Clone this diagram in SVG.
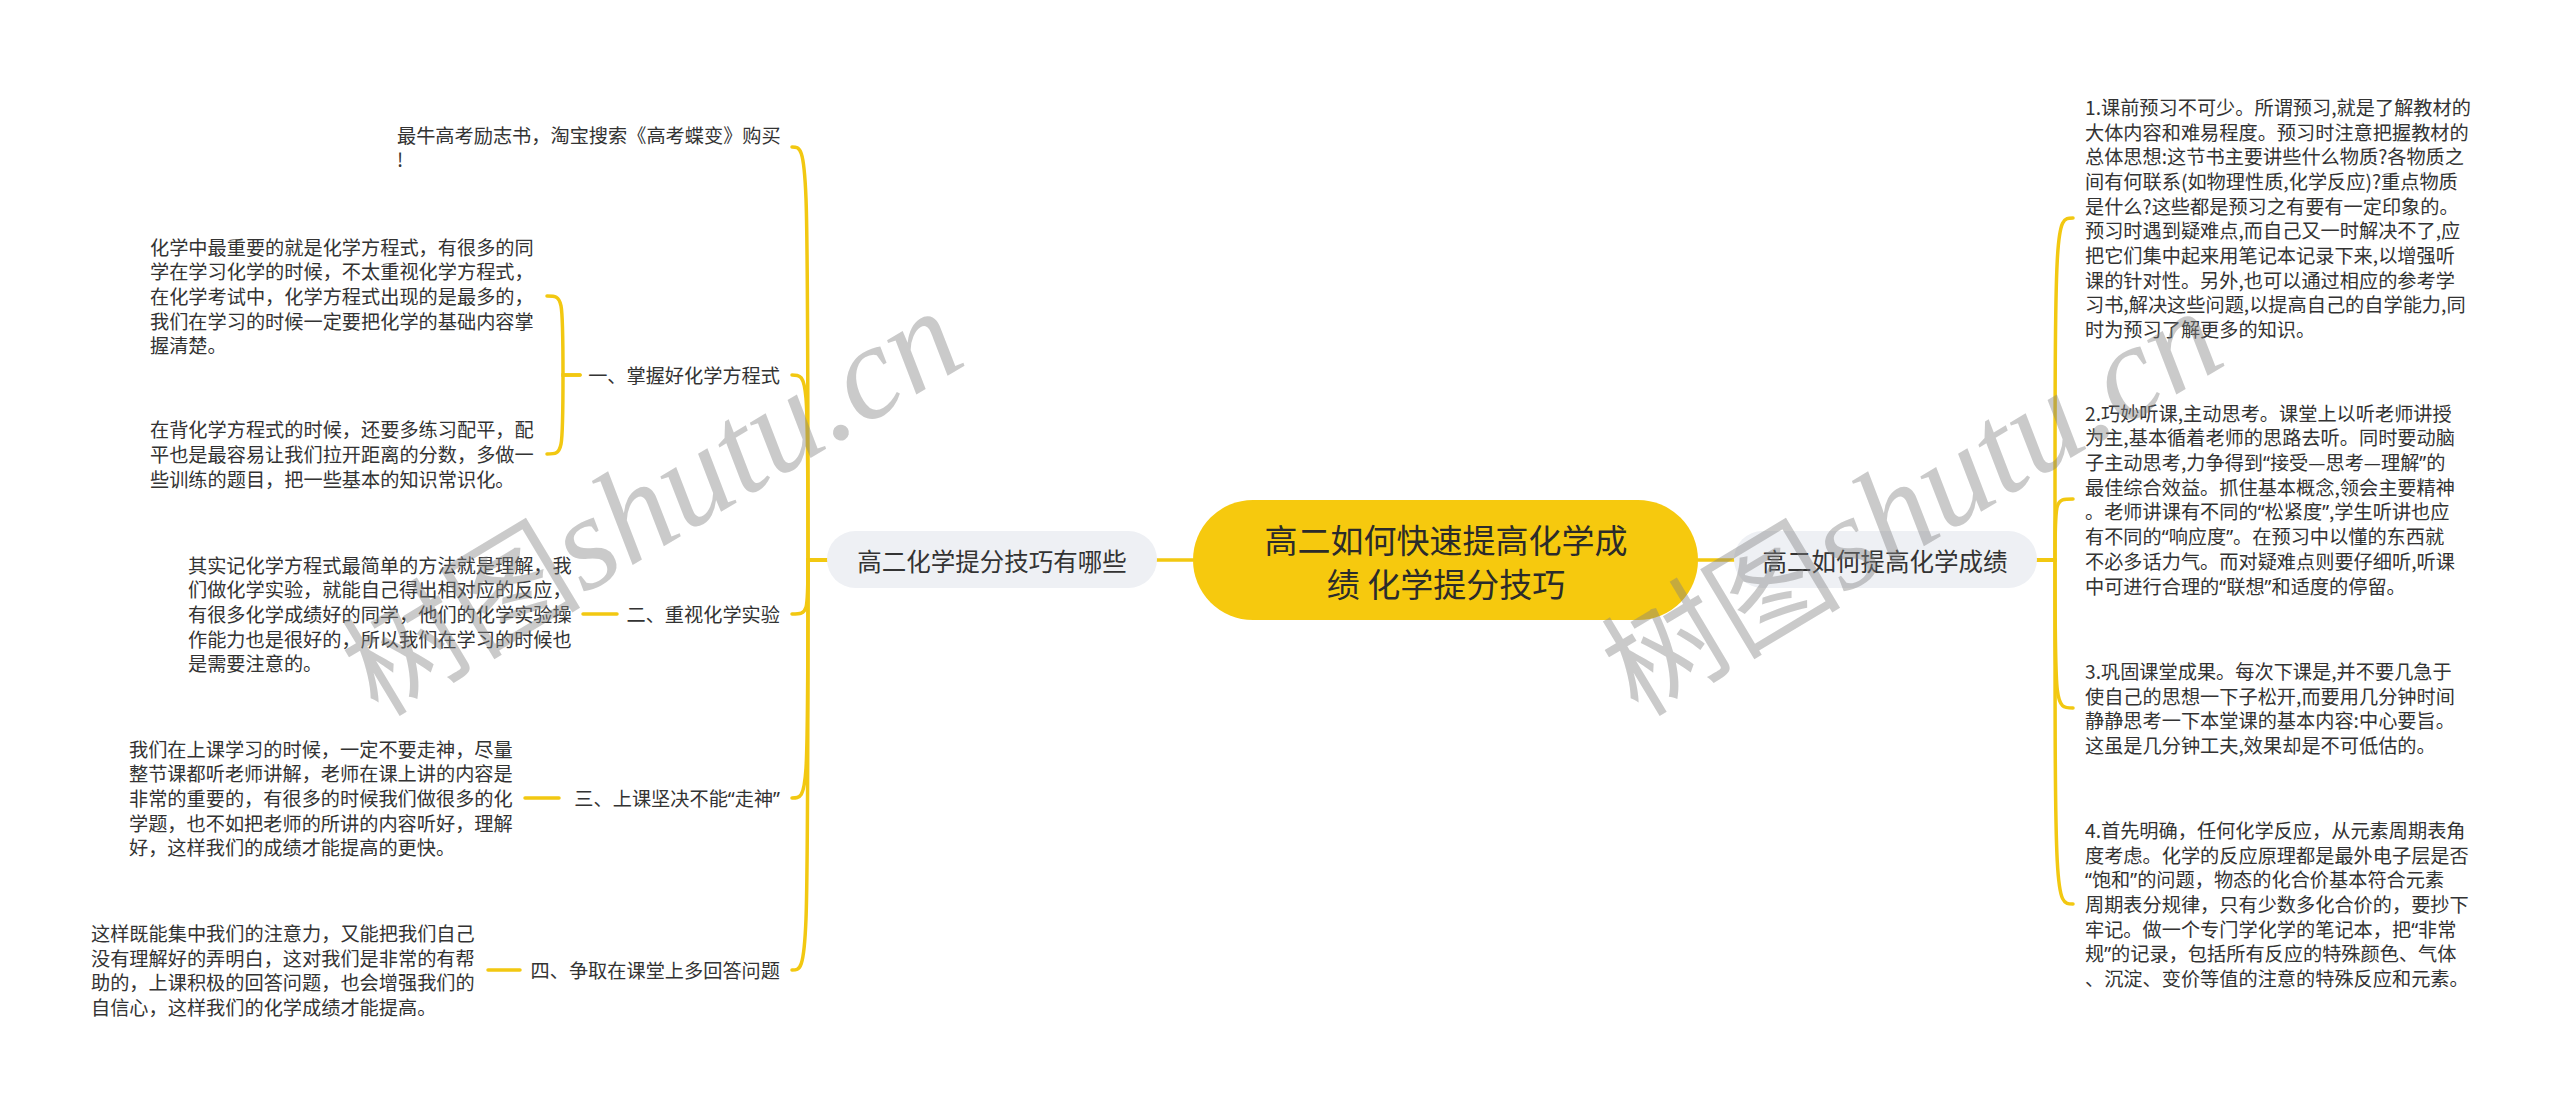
<svg xmlns="http://www.w3.org/2000/svg" width="2560" height="1112" viewBox="0 0 2560 1112">
<defs>
<style>
.t{font-family:"Noto Sans CJK SC","Noto Sans",sans-serif;fill:#333;dominant-baseline:central}
.q{font-family:"Noto Sans","Liberation Sans",sans-serif}
.s{font-size:19.2px}
.m{font-size:24.5px;text-anchor:middle}
.c{font-size:33px;text-anchor:middle;fill:#2b2b2b}
.e{text-anchor:end}
.ln{fill:none;stroke:#f2c811;stroke-width:3.5;stroke-linecap:round}
.wm{fill:#808080;fill-opacity:0.42}
</style>
</defs>
<rect width="2560" height="1112" fill="#ffffff"/>
<g id="connectors">
<path class="ln" d="M1193,560 L1157,560"/>
<path class="ln" d="M1698,560 L1734,560"/>
<path class="ln" d="M827,560 L808,560 C808,147 808,147 792,147"/>
<path class="ln" d="M827,560 L808,560 C808,375 808,375 792,375"/>
<path class="ln" d="M827,560 L808,560 C808,614 808,614 792,614"/>
<path class="ln" d="M827,560 L808,560 C808,798 808,798 792,798"/>
<path class="ln" d="M827,560 L808,560 C808,970 808,970 792,970"/>
<path class="ln" d="M580,375 L563,375 C563,296 563,296 547,296"/>
<path class="ln" d="M580,375 L563,375 C563,454 563,454 547,454"/>
<path class="ln" d="M617,614 L583,614"/>
<path class="ln" d="M559,798 L525,798"/>
<path class="ln" d="M520,970 L488,970"/>
<path class="ln" d="M2037,560 L2055,560 C2055,218 2055,218 2073,218"/>
<path class="ln" d="M2037,560 L2055,560 C2055,499 2055,499 2073,499"/>
<path class="ln" d="M2037,560 L2055,560 C2055,708 2055,708 2073,708"/>
<path class="ln" d="M2037,560 L2055,560 C2055,904 2055,904 2073,904"/>
</g>
<g id="root">
<rect x="1193" y="500" width="505" height="120" rx="60" fill="#f6c90e"/>
<text class="t c" x="1446" y="539">高二如何快速提高化学成</text>
<text class="t c" x="1446" y="583">绩 化学提分技巧</text>
</g>
<g id="left-branch">
<rect x="827" y="531" width="330" height="57" rx="28.5" fill="#eef0f4"/>
<text class="t m" x="992" y="560">高二化学提分技巧有哪些</text>
</g>
<g id="right-branch">
<rect x="1734" y="531" width="303" height="57" rx="28.5" fill="#eef0f4"/>
<text class="t m" x="1885" y="560">高二如何提高化学成绩</text>
</g>
<g id="leaf-ad">
<text class="t s" x="397" y="134.6">最牛高考励志书，淘宝搜索《高考蝶变》购买</text>
<text class="t s" x="397" y="159.4">!</text>
</g>
<g id="topic-1">
<text class="t s e" x="780" y="375">一、掌握好化学方程式</text>
</g>
<g id="topic-1-a">
<text class="t s" x="150" y="246.6">化学中最重要的就是化学方程式，有很多的同</text>
<text class="t s" x="150" y="271.3">学在学习化学的时候，不太重视化学方程式，</text>
<text class="t s" x="150" y="296">在化学考试中，化学方程式出现的是最多的，</text>
<text class="t s" x="150" y="320.7">我们在学习的时候一定要把化学的基础内容掌</text>
<text class="t s" x="150" y="345.4">握清楚。</text>
</g>
<g id="topic-1-b">
<text class="t s" x="150" y="429.3">在背化学方程式的时候，还要多练习配平，配</text>
<text class="t s" x="150" y="454">平也是最容易让我们拉开距离的分数，多做一</text>
<text class="t s" x="150" y="478.7">些训练的题目，把一些基本的知识常识化。</text>
</g>
<g id="topic-2">
<text class="t s e" x="780" y="614">二、重视化学实验</text>
</g>
<g id="topic-2-a">
<text class="t s" x="188" y="564.6">其实记化学方程式最简单的方法就是理解，我</text>
<text class="t s" x="188" y="589.3">们做化学实验，就能自己得出相对应的反应，</text>
<text class="t s" x="188" y="614">有很多化学成绩好的同学，他们的化学实验操</text>
<text class="t s" x="188" y="638.7">作能力也是很好的，所以我们在学习的时候也</text>
<text class="t s" x="188" y="663.4">是需要注意的。</text>
</g>
<g id="topic-3">
<text class="t s e" x="780" y="798">三、上课坚决不能<tspan class="q">“</tspan>走神<tspan class="q">”</tspan></text>
</g>
<g id="topic-3-a">
<text class="t s" x="129" y="748.6">我们在上课学习的时候，一定不要走神，尽量</text>
<text class="t s" x="129" y="773.3">整节课都听老师讲解，老师在课上讲的内容是</text>
<text class="t s" x="129" y="798">非常的重要的，有很多的时候我们做很多的化</text>
<text class="t s" x="129" y="822.7">学题，也不如把老师的所讲的内容听好，理解</text>
<text class="t s" x="129" y="847.4">好，这样我们的成绩才能提高的更快。</text>
</g>
<g id="topic-4">
<text class="t s e" x="780" y="970">四、争取在课堂上多回答问题</text>
</g>
<g id="topic-4-a">
<text class="t s" x="91" y="932.9">这样既能集中我们的注意力，又能把我们自己</text>
<text class="t s" x="91" y="957.6">没有理解好的弄明白，这对我们是非常的有帮</text>
<text class="t s" x="91" y="982.4">助的，上课积极的回答问题，也会增强我们的</text>
<text class="t s" x="91" y="1007.1">自信心，这样我们的化学成绩才能提高。</text>
</g>
<g id="tip-1">
<text class="t s" x="2085" y="106.8">1.课前预习不可少。所谓预习,就是了解教材的</text>
<text class="t s" x="2085" y="131.5">大体内容和难易程度。预习时注意把握教材的</text>
<text class="t s" x="2085" y="156.2">总体思想:这节书主要讲些什么物质?各物质之</text>
<text class="t s" x="2085" y="180.9">间有何联系(如物理性质,化学反应)?重点物质</text>
<text class="t s" x="2085" y="205.6">是什么?这些都是预习之有要有一定印象的。</text>
<text class="t s" x="2085" y="230.3">预习时遇到疑难点,而自己又一时解决不了,应</text>
<text class="t s" x="2085" y="255">把它们集中起来用笔记本记录下来,以增强听</text>
<text class="t s" x="2085" y="279.7">课的针对性。另外,也可以通过相应的参考学</text>
<text class="t s" x="2085" y="304.4">习书,解决这些问题,以提高自己的自学能力,同</text>
<text class="t s" x="2085" y="329.1">时为预习了解更多的知识。</text>
</g>
<g id="tip-2">
<text class="t s" x="2085" y="412.6">2.巧妙听课,主动思考。课堂上以听老师讲授</text>
<text class="t s" x="2085" y="437.3">为主,基本循着老师的思路去听。同时要动脑</text>
<text class="t s" x="2085" y="462">子主动思考,力争得到<tspan class="q">“</tspan>接受—思考—理解<tspan class="q">”</tspan>的</text>
<text class="t s" x="2085" y="486.7">最佳综合效益。抓住基本概念,领会主要精神</text>
<text class="t s" x="2085" y="511.4">。老师讲课有不同的<tspan class="q">“</tspan>松紧度<tspan class="q">”</tspan>,学生听讲也应</text>
<text class="t s" x="2085" y="536.1">有不同的<tspan class="q">“</tspan>响应度<tspan class="q">”</tspan>。在预习中以懂的东西就</text>
<text class="t s" x="2085" y="560.8">不必多话力气。而对疑难点则要仔细听,听课</text>
<text class="t s" x="2085" y="585.5">中可进行合理的<tspan class="q">“</tspan>联想<tspan class="q">”</tspan>和适度的停留。</text>
</g>
<g id="tip-3">
<text class="t s" x="2085" y="670.9">3.巩固课堂成果。每次下课是,并不要几急于</text>
<text class="t s" x="2085" y="695.6">使自己的思想一下子松开,而要用几分钟时间</text>
<text class="t s" x="2085" y="720.3">静静思考一下本堂课的基本内容:中心要旨。</text>
<text class="t s" x="2085" y="745">这虽是几分钟工夫,效果却是不可低估的。</text>
</g>
<g id="tip-4">
<text class="t s" x="2085" y="829.9">4.首先明确，任何化学反应，从元素周期表角</text>
<text class="t s" x="2085" y="854.6">度考虑。化学的反应原理都是最外电子层是否</text>
<text class="t s" x="2085" y="879.3"><tspan class="q">“</tspan>饱和<tspan class="q">”</tspan>的问题，物态的化合价基本符合元素</text>
<text class="t s" x="2085" y="904">周期表分规律，只有少数多化合价的，要抄下</text>
<text class="t s" x="2085" y="928.7">牢记。做一个专门学化学的笔记本，把<tspan class="q">“</tspan>非常</text>
<text class="t s" x="2085" y="953.4">规<tspan class="q">”</tspan>的记录，包括所有反应的特殊颜色、气体</text>
<text class="t s" x="2085" y="978.1">、沉淀、变价等值的注意的特殊反应和元素。</text>
</g>
<g id="watermarks">
<text class="wm" transform="translate(378,718) rotate(-31)"><tspan font-family="Noto Sans CJK SC, sans-serif" font-size="120">树图</tspan><tspan font-family="Liberation Serif, serif" font-style="italic" font-size="134">shutu.cn</tspan></text>
<text class="wm" transform="translate(1638,718) rotate(-31)"><tspan font-family="Noto Sans CJK SC, sans-serif" font-size="120">树图</tspan><tspan font-family="Liberation Serif, serif" font-style="italic" font-size="134">shutu.cn</tspan></text>
</g>
</svg>
